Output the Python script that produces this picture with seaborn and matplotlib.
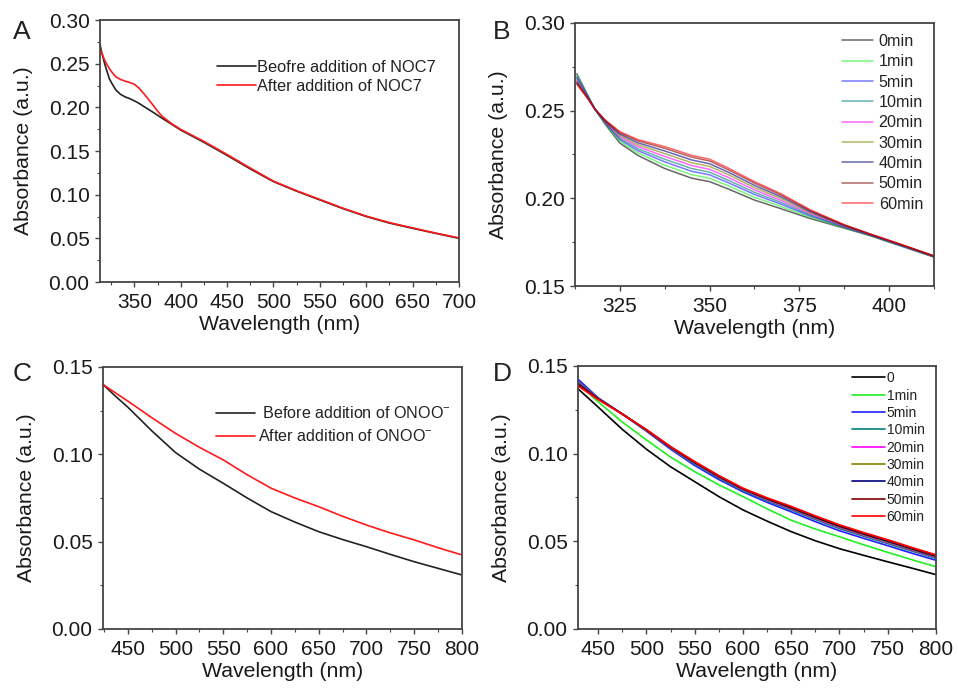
import numpy as np
import pandas as pd
import matplotlib
matplotlib.use("Agg")
import matplotlib.pyplot as plt
from matplotlib.ticker import MultipleLocator
import seaborn as sns

# ---------------- data ----------------
# Panel A
wl_a = [313, 315, 318, 320, 323, 326, 330, 335, 340, 345, 350, 355, 360, 365, 370,
        375, 380, 390, 400, 425, 450, 475, 500, 525, 550, 575, 600, 625, 650, 675, 700]
a_before = [0.272, 0.262, 0.250, 0.243, 0.233, 0.227, 0.220, 0.215, 0.212, 0.2100,
            0.2075, 0.2046, 0.2012, 0.1978, 0.1945, 0.1910, 0.1875, 0.1808, 0.1740,
            0.1600, 0.1450, 0.1295, 0.1150, 0.1040, 0.0940, 0.0840, 0.0750, 0.0675,
            0.0615, 0.0557, 0.0500]
a_after = [0.2676, 0.262, 0.254, 0.250, 0.2445, 0.240, 0.235, 0.2320, 0.2300, 0.2285,
           0.2265, 0.2220, 0.2160, 0.2095, 0.2028, 0.1958, 0.1897, 0.1815, 0.1748,
           0.1610, 0.1460, 0.1305, 0.1155, 0.1045, 0.0945, 0.0845, 0.0755, 0.0680,
           0.0620, 0.0560, 0.0505]
labels_a = ["Beofre addition of NOC7", "After addition of NOC7"]

# Panel B
wl_b = [313, 316, 318, 321, 325, 330, 337.5, 345, 350, 355, 362.5, 370, 378,
        387.5, 395, 403, 412.5]
b_0 = [0.271, 0.259, 0.251, 0.242, 0.2315, 0.2245, 0.217, 0.2115, 0.2095, 0.2055,
       0.199, 0.1940, 0.1885, 0.1830, 0.1785, 0.1730, 0.1665]
b_1 = [0.2701, 0.2587, 0.251, 0.2424, 0.2325, 0.2259, 0.2189, 0.2135, 0.2114, 0.2073,
       0.2006, 0.1953, 0.1893, 0.1833, 0.1787, 0.1732, 0.1666]
b_5 = [0.2692, 0.2584, 0.251, 0.2428, 0.2335, 0.2272, 0.2208, 0.2154, 0.2134, 0.2091,
       0.2022, 0.1966, 0.1900, 0.1836, 0.1788, 0.1733, 0.1667]
b_10 = [0.2685, 0.2582, 0.251, 0.2431, 0.2342, 0.2283, 0.2223, 0.2170, 0.2149, 0.2105,
        0.2034, 0.1976, 0.1906, 0.1838, 0.1789, 0.1734, 0.1668]
b_20 = [0.2677, 0.2579, 0.251, 0.2434, 0.2351, 0.2295, 0.2239, 0.2187, 0.2165, 0.2121,
        0.2048, 0.1987, 0.1913, 0.1841, 0.1791, 0.1736, 0.1669]
b_30 = [0.2669, 0.2576, 0.251, 0.2437, 0.2359, 0.2306, 0.2255, 0.2203, 0.2182, 0.2137,
        0.2061, 0.1998, 0.1919, 0.1844, 0.1792, 0.1737, 0.1670]
b_40 = [0.2662, 0.2574, 0.251, 0.2440, 0.2367, 0.2317, 0.2270, 0.2219, 0.2197, 0.2151,
        0.2074, 0.2008, 0.1925, 0.1846, 0.1793, 0.1738, 0.1671]
b_50 = [0.2655, 0.2572, 0.251, 0.2443, 0.2375, 0.2328, 0.2285, 0.2235, 0.2213, 0.2165,
        0.2087, 0.2018, 0.1931, 0.1848, 0.1794, 0.1739, 0.1671]
b_60 = [0.265, 0.257, 0.251, 0.2445, 0.238, 0.2335, 0.2295, 0.2245, 0.2223, 0.2175,
        0.2095, 0.2025, 0.1935, 0.1850, 0.1795, 0.1740, 0.1672]
labels_b = ["0min", "1min", "5min", "10min", "20min", "30min", "40min", "50min", "60min"]

# Panel C
wl_c = [424, 437, 450, 475, 500, 525, 550, 575, 600, 625, 650, 675, 700, 725, 750, 775, 800]
c_before = [0.1400, 0.1333, 0.1270, 0.1135, 0.1010, 0.0915, 0.0834, 0.0750, 0.0672,
            0.0612, 0.0557, 0.0512, 0.0471, 0.0427, 0.0385, 0.0347, 0.0309]
c_after = [0.1400, 0.1352, 0.1305, 0.1210, 0.1120, 0.1040, 0.0968, 0.0883, 0.0806,
           0.0750, 0.0700, 0.0645, 0.0595, 0.0550, 0.0510, 0.0465, 0.0424]
labels_c = [" Before addition of ONOO$^{-}$", "After addition of ONOO$^{-}$"]

# Panel D
wl_d = [429, 450, 475, 500, 525, 550, 575, 600, 625, 650, 675, 700, 725, 750, 775, 800]
d_0 = [0.1370, 0.1265, 0.1138, 0.1025, 0.0925, 0.0840, 0.0755, 0.0679, 0.0615, 0.0555,
       0.0503, 0.0458, 0.0420, 0.0383, 0.0347, 0.0310]
d_1 = [0.1400, 0.1295, 0.1180, 0.1078, 0.0980, 0.0897, 0.0822, 0.0755, 0.0685, 0.0620,
       0.0570, 0.0526, 0.0480, 0.0437, 0.0395, 0.0355]
d_5 = [0.1425, 0.1318, 0.1225, 0.1128, 0.1025, 0.0932, 0.0852, 0.0782, 0.0722, 0.0668,
       0.0612, 0.0560, 0.0517, 0.0475, 0.0432, 0.0392]
d_10 = [0.1413, 0.1316, 0.1225, 0.1131, 0.1030, 0.0940, 0.0860, 0.0789, 0.0731, 0.0679,
        0.0624, 0.0572, 0.0529, 0.0487, 0.0444, 0.0403]
d_20 = [0.1406, 0.1315, 0.1226, 0.1133, 0.1033, 0.0945, 0.0865, 0.0794, 0.0736, 0.0685,
        0.0630, 0.0579, 0.0535, 0.0494, 0.0450, 0.0409]
d_30 = [0.1402, 0.1314, 0.1226, 0.1134, 0.1035, 0.0947, 0.0867, 0.0796, 0.0739, 0.0688,
        0.0633, 0.0582, 0.0538, 0.0497, 0.0453, 0.0412]
d_40 = [0.1399, 0.1313, 0.1226, 0.1135, 0.1036, 0.0949, 0.0869, 0.0798, 0.0742, 0.0691,
        0.0637, 0.0586, 0.0542, 0.0501, 0.0457, 0.0415]
d_50 = [0.1394, 0.1311, 0.1225, 0.1136, 0.1038, 0.0952, 0.0872, 0.0800, 0.0745, 0.0695,
        0.0641, 0.0590, 0.0546, 0.0505, 0.0461, 0.0419]
d_60 = [0.1386, 0.1308, 0.1225, 0.1137, 0.1040, 0.0955, 0.0875, 0.0803, 0.0748, 0.0699,
        0.0645, 0.0594, 0.0550, 0.0509, 0.0465, 0.0423]
labels_d = ["0", "1min", "5min", "10min", "20min", "30min", "40min", "50min", "60min"]

time_colors = ["#000000", "#22ee22", "#2020ff", "#008080", "#ff00ff",
               "#808000", "#000080", "#800000", "#ff0000"]

# ---------------- style ----------------
sns.set_style("ticks")
plt.rcParams["font.family"] = ["Liberation Sans", "DejaVu Sans"]
plt.rcParams["mathtext.default"] = "regular"
plt.rcParams["text.color"] = "#222222"

fig = plt.figure(figsize=(9.58, 6.88), dpi=100)

axA = fig.add_axes([0.1044, 0.5901, 0.3747, 0.3808])
axB = fig.add_axes([0.6002, 0.5843, 0.3747, 0.3823])
axC = fig.add_axes([0.1075, 0.0858, 0.3747, 0.3808])
axD = fig.add_axes([0.6033, 0.0858, 0.3737, 0.3823])


def style_axis(ax, xlim, ylim, xmaj, ymaj, xfmt, yfmt):
    ax.set_xlim(*xlim)
    ax.set_ylim(*ylim)
    ax.xaxis.set_major_locator(MultipleLocator(xmaj))
    ax.xaxis.set_minor_locator(MultipleLocator(xmaj / 2))
    ax.yaxis.set_major_locator(MultipleLocator(ymaj))
    ax.yaxis.set_minor_locator(MultipleLocator(ymaj / 2))
    ax.xaxis.set_major_formatter(plt.FormatStrFormatter(xfmt))
    ax.yaxis.set_major_formatter(plt.FormatStrFormatter(yfmt))
    for s in ax.spines.values():
        s.set_visible(True)
        s.set_color("#444444")
        s.set_linewidth(1.3)
    ax.tick_params(which="major", direction="out", length=3.5, width=1.0,
                   labelsize=15, colors="#444444", labelcolor="#1a1a1a",
                   top=False, right=False)
    ax.tick_params(axis="y", which="major", pad=4)
    ax.tick_params(axis="x", which="major", pad=4.5)
    ax.tick_params(which="minor", direction="out", length=2.2, width=0.8,
                   colors="#444444", top=False, right=False)
    ax.set_xlabel("Wavelength (nm)", fontsize=15.3, labelpad=2, color="#1a1a1a")
    ax.set_ylabel("Absorbance (a.u.)", fontsize=15.3, labelpad=11, color="#1a1a1a")


# Panel A
dfA = pd.DataFrame({"wl": wl_a * 2, "abs": a_before + a_after,
                    "series": [labels_a[0]] * len(wl_a) + [labels_a[1]] * len(wl_a)})
sns.lineplot(data=dfA, x="wl", y="abs", hue="series", palette=["#222222", "#ff1a1a"],
             ax=axA, linewidth=1.2, sort=False, estimator=None)
style_axis(axA, (313, 700), (0, 0.30), 50, 0.05, "%d", "%.2f")
axA.legend(frameon=False, loc="upper left", bbox_to_anchor=(0.325, 0.848),
           fontsize=11.8, handlelength=2.4, handletextpad=0.05, labelspacing=0.25,
           borderpad=0, borderaxespad=0)

# Panel B
b_series = [b_0, b_1, b_5, b_10, b_20, b_30, b_40, b_50, b_60]
dfB = pd.DataFrame({"wl": wl_b * len(b_series),
                    "abs": sum(b_series, []),
                    "series": sum([[lab] * len(wl_b) for lab in labels_b], [])})
sns.lineplot(data=dfB, x="wl", y="abs", hue="series", hue_order=labels_b,
             palette=time_colors, ax=axB, linewidth=1.1, alpha=0.6,
             sort=False, estimator=None)
style_axis(axB, (312.5, 412.5), (0.15, 0.30), 25, 0.05, "%d", "%.2f")
axB.legend(frameon=False, loc="upper left", bbox_to_anchor=(0.745, 0.958),
           fontsize=11.6, handlelength=1.9, handletextpad=0.35, labelspacing=0.33,
           borderpad=0, borderaxespad=0)

# Panel C
dfC = pd.DataFrame({"wl": wl_c * 2, "abs": c_before + c_after,
                    "series": [labels_c[0]] * len(wl_c) + [labels_c[1]] * len(wl_c)})
sns.lineplot(data=dfC, x="wl", y="abs", hue="series", palette=["#222222", "#ff1a1a"],
             ax=axC, linewidth=1.2, sort=False, estimator=None)
style_axis(axC, (424, 800), (0, 0.15), 50, 0.05, "%d", "%.2f")
axC.legend(frameon=False, loc="upper left", bbox_to_anchor=(0.315, 0.853),
           fontsize=11.6, handlelength=2.4, handletextpad=0.2, labelspacing=0.42,
           borderpad=0, borderaxespad=0)

# Panel D
d_series = [d_0, d_1, d_5, d_10, d_20, d_30, d_40, d_50, d_60]
dfD = pd.DataFrame({"wl": wl_d * len(d_series),
                    "abs": sum(d_series, []),
                    "series": sum([[lab] * len(wl_d) for lab in labels_d], [])})
sns.lineplot(data=dfD, x="wl", y="abs", hue="series", hue_order=labels_d,
             palette=time_colors, ax=axD, linewidth=1.2, sort=False, estimator=None)
style_axis(axD, (429, 800), (0, 0.15), 50, 0.05, "%d", "%.2f")
axD.legend(frameon=False, loc="upper left", bbox_to_anchor=(0.765, 0.98),
           fontsize=10, handlelength=2.4, handletextpad=0.1, labelspacing=0.24,
           borderpad=0, borderaxespad=0)

# panel letters
for lab, (x, y) in zip(["A", "B", "C", "D"],
                       [(22, 32), (502, 32), (22, 374), (502, 374)]):
    fig.text(x / 958, 1 - y / 688, lab, fontsize=19, ha="center", va="center",
             color="#222222")

fig.savefig("out.png", dpi=100)
